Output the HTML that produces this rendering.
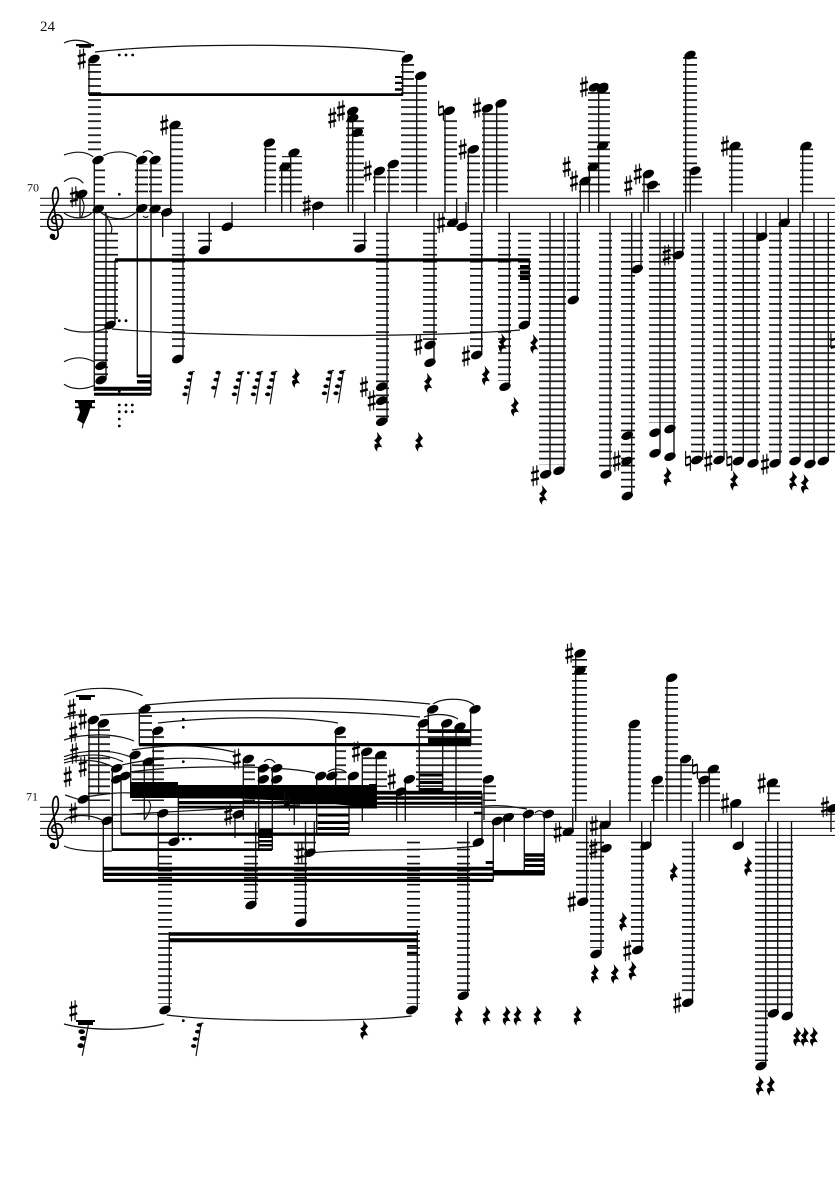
<!DOCTYPE html>
<html><head><meta charset="utf-8"><style>
html,body{margin:0;padding:0;background:#fff}
svg{display:block}
.st{stroke:#111;stroke-width:1.35;fill:none}
.sf{stroke:#222;stroke-width:1.1;fill:none}
.sl{stroke:#111;stroke-width:1.2;fill:none}
text{font-family:"Liberation Serif",serif;fill:#111}
</style></head><body>
<svg xmlns="http://www.w3.org/2000/svg" width="835" height="1181" viewBox="0 0 835 1181">
<defs>
<pattern id="A" width="20" height="7.03" patternUnits="userSpaceOnUse" patternTransform="translate(0 190.6)"><rect width="20" height="1.7" fill="#111"/></pattern>
<pattern id="B" width="20" height="7.03" patternUnits="userSpaceOnUse" patternTransform="translate(0 799.5)"><rect width="20" height="1.7" fill="#111"/></pattern>
<ellipse id="n" rx="6" ry="3.9" transform="rotate(-24)" fill="#000"/>
<g id="s"><path d="M-1.8-9.5V10.5M1.8-10.5V9.5" stroke="#111" stroke-width="1.2" fill="none"/><path d="M-3.9-2.6L3.9-4.9M-3.9 4.9L3.9 2.6" stroke="#000" stroke-width="2.5" fill="none"/></g>
<g id="h"><path d="M-2.4-10V4.6M2.4-4.6V10" stroke="#111" stroke-width="1.2" fill="none"/><path d="M-2.4-3L2.4-4.6M-2.4 4.6L2.4 3" stroke="#000" stroke-width="2.2" fill="none"/></g>
<path id="r" d="M-1.4-10L3.8-3.4C1.6-1.4.8 0 1 1L4 5.8C.8 4.2-1.8 5.4-1 10C-5 6-5 1.2-.8 2L-4.2-1.4C-1.6-3-.6-4.6-.8-6.4Z" fill="#000"/>
<g id="c"><path d="M0 0L5.2-33M5.2-33l2.2 .4" stroke="#111" stroke-width="1.2" fill="none"/><ellipse cx="3.3" cy="-31" rx="2.7" ry="1.9" fill="#000"/><ellipse cx="1.7" cy="-24.3" rx="2.7" ry="1.9" fill="#000"/><ellipse cx="-.7" cy="-17" rx="2.7" ry="1.9" fill="#000"/><ellipse cx="-2.3" cy="-10" rx="2.7" ry="1.9" fill="#000"/></g>
<g id="d"><path d="M0 0L5.5-26" stroke="#111" stroke-width="1.2" fill="none"/><ellipse cx="3.8" cy="-25" rx="2.7" ry="1.9" fill="#000"/><ellipse cx="1.8" cy="-18" rx="2.7" ry="1.9" fill="#000"/><ellipse cx="-.5" cy="-10" rx="2.7" ry="1.9" fill="#000"/></g>
<g id="k"><path d="M1 4C-4 5-5-2 0-4C6-7 9 1 7 6C5 12-5 13-7 6C-9-3 1-12 3-20C4-26 3-32 1-32C-2-31-3-24-2-18L3 13C4 19 0 21-3 19" stroke="#000" stroke-width="1.7" fill="none"/><circle cx="-2.5" cy="17" r="2.8" fill="#000"/></g>
</defs>
<rect width="835" height="1181" fill="#fff"/>
<text x="40" y="31" font-size="15">24</text>
<text x="27" y="191.5" font-size="12">70</text>
<text x="26" y="800.5" font-size="12">71</text>
<path class="sf" d="M40 198.3H835M40 205.3H835M40 212.4H835M40 219.4H835M40 226.4H835M40 807.3H835M40 814.3H835M40 821.4H835M40 828.4H835M40 835.4H835"/>
<use href="#k" x="55" y="219.4"/><use href="#k" x="55" y="828.4"/>

<!-- system 1 ledgers -->
<g fill="url(#A)">
<rect x="88" y="63" width="13" height="92"/><rect x="94" y="165" width="11" height="28"/>
<rect x="95" y="232" width="23" height="92"/><rect x="95" y="324" width="13" height="54"/>
<rect x="135" y="164" width="13" height="29"/><rect x="149" y="164" width="13" height="29"/>
<rect x="171" y="128" width="12" height="65"/><rect x="172" y="232" width="13" height="120"/>
<rect x="198" y="232" width="14" height="11"/>
<rect x="264" y="148" width="12" height="45"/><rect x="279" y="170" width="15" height="23"/><rect x="282" y="156" width="20" height="37"/>
<rect x="346" y="120" width="18" height="73"/><rect x="353" y="232" width="14" height="11"/>
<rect x="373" y="176" width="13" height="17"/><rect x="387" y="170" width="12" height="23"/>
<rect x="401" y="63" width="13" height="20"/><rect x="401" y="82" width="26" height="111"/>
<rect x="376" y="232" width="13" height="186"/><rect x="423" y="232" width="14" height="108"/>
<rect x="444" y="116" width="13" height="77"/><rect x="467" y="155" width="13" height="38"/><rect x="482" y="113" width="26" height="80"/>
<rect x="470" y="232" width="13" height="117"/><rect x="498" y="232" width="13" height="149"/><rect x="518" y="232" width="13" height="87"/>
<rect x="539" y="232" width="27" height="233"/><rect x="567" y="232" width="13" height="60"/>
<rect x="588" y="92" width="22" height="101"/><rect x="579" y="184" width="31" height="9"/>
<rect x="599" y="232" width="13" height="235"/><rect x="621" y="232" width="14" height="260"/><rect x="635" y="232" width="8" height="30"/>
<rect x="642" y="183" width="18" height="10"/><rect x="649" y="232" width="27" height="191"/><rect x="673" y="232" width="12" height="17"/>
<rect x="683" y="57" width="14" height="136"/><rect x="683" y="176" width="19" height="17"/>
<rect x="691" y="232" width="14" height="222"/><rect x="713" y="232" width="14" height="222"/><rect x="732" y="232" width="28" height="222"/>
<rect x="729" y="148" width="14" height="45"/><rect x="769" y="232" width="13" height="222"/><rect x="800" y="148" width="13" height="45"/>
<rect x="789" y="232" width="46" height="222"/>
</g>
<!-- system 2 ledgers -->
<g fill="url(#B)">
<rect x="88" y="725" width="22" height="76"/><rect x="139" y="713" width="13" height="28"/><rect x="152" y="736" width="12" height="65"/><rect x="132" y="764" width="23" height="37"/>
<rect x="336" y="736" width="10" height="52"/><rect x="243" y="764" width="12" height="37"/><rect x="363" y="756" width="24" height="31"/>
<rect x="416" y="729" width="66" height="58"/><rect x="483" y="785" width="13" height="16"/>
<rect x="158" y="841" width="14" height="163"/><rect x="244" y="841" width="14" height="58"/><rect x="294" y="841" width="13" height="75"/><rect x="295" y="841" width="21" height="3"/>
<rect x="407" y="841" width="13" height="163"/><rect x="457" y="841" width="13" height="150"/>
<rect x="572" y="659" width="15" height="142"/><rect x="576" y="841" width="13" height="55"/><rect x="590" y="841" width="14" height="107"/>
<rect x="628" y="729" width="13" height="72"/><rect x="631" y="841" width="13" height="103"/><rect x="651" y="785" width="13" height="16"/><rect x="665" y="682" width="13" height="119"/>
<rect x="678" y="764" width="14" height="37"/><rect x="682" y="841" width="13" height="155"/><rect x="698" y="771" width="22" height="30"/><rect x="767" y="785" width="13" height="16"/>
<rect x="755" y="841" width="13" height="220"/><rect x="768" y="841" width="25" height="165"/>
</g>

<!-- stems -->
<path class="st" d="M89 59V95M94.3 160V391M106 213V380M115 260V325M137.3 160V377M151 160V395M80 194V218M162.7 212V237M170.7 125V212M183 213V359M209.3 212V250M232 226V202M265.5 142V212M281.7 166V212M290.7 152V212M313.3 206V230M348.3 111V212M352.7 118V212M364.7 212V248M374.7 171V212M389 164V212M387 212V422M402.7 58V95M416.7 76V212M445 111V212M434 212V363M468.3 149V212M484 108V212M496.7 103V212M456.7 222V198M466 226V202M481.7 212V355M509.3 212V387M529.3 260V325M550 212V474M564 212V470M577.3 212V300M580.3 181V212M589.3 167V212M598.7 88V212M610 212V474M631.7 212V496M641 212V269M644 174V212M648.3 185V212M660 212V453M674 212V457M682.7 212V255M685.7 55V212M690.3 171V212M702.7 212V460M724 212V460M731.7 146V212M743.3 212V461M757 212V463M766 236V212M780 212V463M788.3 222V198M800 212V461M802.7 146V212M814 212V464M828.3 212V461"/>
<path class="st" d="M89 720V820M98.7 723V793M112.3 768V850M121 776V834M130.7 755V785M103.3 820V880M139.3 709V745M144.3 762V820M153.3 731V796M158.3 813V870M178.3 797V841M169.3 932V1010M235 814V838M243.3 759V820M255.7 821V905M258.7 768V850M272.3 768V850M294.3 800V825M305.5 821V920M314.3 821V852M316.7 776V833M335.7 731V786M349 776V833M362.3 752V821M376.3 755V786M396.7 792V821M405.3 779V821M417.3 930V1010M419.3 723V792M428.3 709V733M442.7 723V791M456 727V821M467.7 821V996M470.7 709V745M482 793V842M484 779V820M493.3 821V880M504.3 817V842M524.3 814V873M544.3 814V875M572.7 831V808M575.7 653V821M586.7 821V902M601 821V954M610 825V800M630 724V821M641.7 821V950M650.7 846V821M653.7 780V821M667 678V821M681 759V821M692.5 821V1003M700.3 780V821M709.3 769V821M731.3 803V828M742.7 821V846M765.7 821V1066M768.7 783V821M777.7 821V1013M791.5 821V1016M831 808V832"/>

<!-- beams -->
<path fill="#000" d="M89 93.3H403V96H89ZM115 258.2H530V261.6H115ZM94 386.7H151V390.7H94ZM94 392.7H151V395.8H94ZM137 374.5H151V377.5H137ZM137 380H151V383.5H137ZM395 76H403V78H395ZM395 81.7H403V84H395ZM395 88.3H403V90.7H395ZM520 265H529.5V269H520ZM520 270.5H529.5V274.5H520ZM520 276H529.5V280H520ZM76 44H94V46.3H76ZM79 46.3H91V47.8H79ZM75 400H95V403H75ZM75 406.5H95V408.3H75ZM79 403H92V407H79Z"/>
<path fill="#000" d="M76 695H95V697H76ZM79 697H91V700H79ZM130 782H178V798H130ZM178 785H377V798.5H178ZM178 801H377V804.3H178ZM178 805.7H377V808.5H178ZM240 798.5L377 798L377 808L310 802ZM377 790.7H482V794.6H377ZM377 796.2H482V799.8H377ZM377 801.7H482V804.8H377ZM377 806.3H482V807.4H377ZM121 832.5H349V835.3H121ZM112 848.3H272V851H112ZM103 866.7H493.5V870.5H103ZM103 872.7H493.5V876H103ZM103 878.7H493.5V882H103ZM139 743H471V746.2H139ZM169 932.3H417.5V935.7H169ZM169 938.3H417.5V942.3H169ZM259 829H272.5V834H259ZM259 835.5H272.5V838H259ZM259 840H272.5V842.5H259ZM259 844H272.5V846.5H259ZM317.7 813.5H349V816.5H317.7ZM317.7 821H349V824H317.7ZM317.7 827H349V830H317.7ZM428 730H471V733H428ZM428 738H471V743H428ZM419 773.5H443V776.5H419ZM419 781H443V784H419ZM419 788H443V791H419ZM369 784H377V786.2H369ZM474 811.7H482V814H474ZM485.7 861H493.3V864H485.7ZM493.3 870H544.5V875.5H493.3ZM524.3 853.3H544.5V856.7H524.3ZM524.3 858.3H544.5V861.7H524.3ZM524.3 864H544.5V867H524.3ZM407 945H417.5V946.8H407ZM407 951.7H417.5V954H407ZM76 1020H95V1022H76ZM78 1022H93V1025H78Z"/>

<!-- flags and cluster blobs -->
<path class="sl" d="M81 197C84 203 86 207 81 218M105 213C108 220 114 226 111 233M148 800C151 803 153 808 144.3 820"/>
<path class="sl" d="M82.3 428.3L87 403M82.3 1055.7L88.3 1025"/>
<path fill="#000" d="M78 403H92L88 415L84 424L77 420L80 412Z"/>
<ellipse cx="81.7" cy="1031.7" rx="3.3" ry="2.4" fill="#000"/><ellipse cx="83" cy="1038.3" rx="3.3" ry="2.4" fill="#000"/><ellipse cx="80.7" cy="1045.7" rx="3.3" ry="2.4" fill="#000"/>

<!-- slurs sys1 -->
<path class="sl" d="M64 43C72 39 85 39 93 46M95 52C170 43 330 43 405 52M64 181.7C70 176.5 78 176.5 83.3 183.3M64 213C72 219 84 220 91.7 213M64 155C75 151 85 151 93.3 156.7M103.3 155.7C112 150.5 128 150.5 136.7 156.7M143 153C146 150 150 150 153 154M100 212C112 221 126 221 136.7 211.7M143 216C145 218 147 218 148 216M64 328.3C75 333 95 334 107 327.7M112 329C200 337 430 338 520 330M64 361.7C74 356.5 84 356.5 94 361.7M64 384.3C72 390 85 390 95 385"/>
<!-- slurs sys2 -->
<path class="sl" d="M64 695C85 686 122 686 142.7 695.7M145 705C240 696 350 696 430 704M100 715C200 709 330 709 420 717M158 723C220 716 300 716 338 723M64 718C72 715 80 714 87 715M64 740C85 733 115 733 134 741M64 756.7C85 749 110 749 130 756.7M64 760C85 753 105 753 123 761.7M64 763C80 758 100 760 113 767M132 750C170 744 200 744 234 752M122 765C150 758 200 755 234 763M130 772C180 765 280 765 315 773M65 795C72 797 78 800 83 800M85 797C100 795 115 792 130 793M64 820C72 814 90 814 102 820M64 846C72 850 90 852 112 851M112 815C160 812 240 808 300 805M485 806C500 805 510 806 527 809M535 813C538 810 541 810 544 813M264.3 761.7C267 758.5 272 758.5 275 762.7M328 771.7C333 768 342 768 346.7 772.7M433 704C442 698 465 697 474 705M424 717C435 713 450 714 458 719M166.7 1015C220 1022 360 1022 411.7 1016M64 1024C90 1031 135 1031 164 1024M310 853C360 848 430 852 476 846"/>

<!-- sys1 notes -->
<g>
<use href="#n" x="94" y="59"/><use href="#n" x="98" y="160"/><use href="#n" x="98.3" y="209"/><use href="#n" x="81.7" y="194"/><use href="#n" x="110" y="325"/><use href="#n" x="101" y="365.7"/><use href="#n" x="101" y="380"/>
<use href="#n" x="141.7" y="160"/><use href="#n" x="141.7" y="208.3"/><use href="#n" x="155" y="160"/><use href="#n" x="155" y="209"/><use href="#n" x="166.7" y="212.3"/><use href="#n" x="175" y="125"/><use href="#n" x="177.7" y="359"/><use href="#n" x="204.3" y="250"/><use href="#n" x="227.3" y="226.7"/>
<use href="#n" x="269.3" y="142.7"/><use href="#n" x="285" y="166.7"/><use href="#n" x="294" y="152.7"/><use href="#n" x="317.7" y="205.7"/><use href="#n" x="352.7" y="111"/><use href="#n" x="352.7" y="118.3"/><use href="#n" x="357.3" y="132.7"/><use href="#n" x="360" y="248.3"/><use href="#n" x="379.3" y="171"/><use href="#n" x="393.3" y="164"/>
<use href="#n" x="381.7" y="386.7"/><use href="#n" x="381.7" y="400.7"/><use href="#n" x="381.7" y="421.7"/><use href="#n" x="407.3" y="58.3"/><use href="#n" x="420.7" y="75.7"/><use href="#n" x="449.3" y="110.7"/><use href="#n" x="473.3" y="149.3"/><use href="#n" x="487.3" y="108.3"/><use href="#n" x="501" y="103.3"/>
<use href="#n" x="452.7" y="222.7"/><use href="#n" x="462.3" y="226.7"/><use href="#n" x="430" y="345"/><use href="#n" x="430" y="362.7"/><use href="#n" x="476.7" y="355"/><use href="#n" x="505" y="386.7"/><use href="#n" x="524.3" y="325"/>
<use href="#n" x="545.7" y="474.3"/><use href="#n" x="559" y="470.7"/><use href="#n" x="573.3" y="300"/><use href="#n" x="606" y="474.3"/><use href="#n" x="627.3" y="496"/><use href="#n" x="627.3" y="435.7"/><use href="#n" x="627" y="461"/><use href="#n" x="637.3" y="269"/>
<use href="#n" x="678.3" y="255"/><use href="#n" x="655" y="432.7"/><use href="#n" x="655" y="453.3"/><use href="#n" x="670" y="429"/><use href="#n" x="670" y="456.7"/>
<use href="#n" x="696.7" y="460"/><use href="#n" x="719" y="460"/><use href="#n" x="738.3" y="461"/><use href="#n" x="753" y="463.3"/><use href="#n" x="775" y="463.3"/><use href="#n" x="761.7" y="236.7"/><use href="#n" x="784.3" y="222.7"/><use href="#n" x="795" y="461"/><use href="#n" x="810" y="464"/><use href="#n" x="823.3" y="461"/>
<use href="#n" x="735" y="146"/><use href="#n" x="806" y="146"/><use href="#n" x="690" y="55"/><use href="#n" x="695" y="170.7"/><use href="#n" x="648.3" y="174"/><use href="#n" x="652.3" y="185"/>
<use href="#n" x="594.3" y="87.3"/><use href="#n" x="602.7" y="87"/><use href="#n" x="602.7" y="89"/><use href="#n" x="602.7" y="145.7"/><use href="#n" x="593.3" y="166.7"/><use href="#n" x="585" y="181"/>
</g>
<!-- sys2 notes -->
<g>
<use href="#n" x="93.3" y="720"/><use href="#n" x="103.3" y="723.3"/><use href="#n" x="116.7" y="768.3"/><use href="#n" x="116.7" y="779.3"/><use href="#n" x="125" y="776"/><use href="#n" x="83.3" y="799.3"/><use href="#n" x="107.3" y="820.7"/>
<use href="#n" x="145" y="709.3"/><use href="#n" x="157.7" y="730.7"/><use href="#n" x="135" y="755"/><use href="#n" x="148.3" y="761.7"/><use href="#n" x="162.7" y="813.3"/><use href="#n" x="174" y="841.7"/>
<use href="#n" x="238.3" y="814.3"/><use href="#n" x="248.3" y="759"/><use href="#n" x="263.3" y="768.3"/><use href="#n" x="263.3" y="779.3"/><use href="#n" x="276.7" y="768.3"/><use href="#n" x="276.7" y="779.3"/>
<use href="#n" x="320.7" y="776"/><use href="#n" x="331.7" y="776"/><use href="#n" x="353.3" y="776"/><use href="#n" x="340" y="730.7"/><use href="#n" x="366.7" y="751.7"/><use href="#n" x="380.7" y="755"/><use href="#n" x="409.3" y="779.3"/><use href="#n" x="400.7" y="791.7"/><use href="#n" x="310" y="852.7"/>
<use href="#n" x="423.3" y="723.3"/><use href="#n" x="432.7" y="709.3"/><use href="#n" x="446.7" y="723.3"/><use href="#n" x="460" y="726.7"/><use href="#n" x="475" y="709.3"/><use href="#n" x="488.3" y="779.3"/><use href="#n" x="478.3" y="842.3"/>
<use href="#n" x="463.3" y="995.7"/><use href="#n" x="411.7" y="1010"/><use href="#n" x="165" y="1010"/><use href="#n" x="251" y="905"/><use href="#n" x="301" y="922.7"/>
<use href="#n" x="497.3" y="821"/><use href="#n" x="508.3" y="817.3"/><use href="#n" x="528.3" y="814"/><use href="#n" x="548.3" y="814"/><use href="#n" x="568.3" y="831.7"/>
<use href="#n" x="580" y="653.3"/><use href="#n" x="580" y="670.7"/><use href="#n" x="605" y="825"/><use href="#n" x="606" y="848.3"/><use href="#n" x="582.7" y="901.7"/><use href="#n" x="596" y="954"/><use href="#n" x="637.7" y="950"/><use href="#n" x="646" y="845.7"/>
<use href="#n" x="634.3" y="724"/><use href="#n" x="657.3" y="780"/><use href="#n" x="671.7" y="677.7"/><use href="#n" x="685.7" y="759"/><use href="#n" x="704" y="780"/><use href="#n" x="713.3" y="769"/><use href="#n" x="735.7" y="803.3"/><use href="#n" x="738.3" y="845.7"/><use href="#n" x="772.3" y="782.7"/><use href="#n" x="832.7" y="808.3"/>
<use href="#n" x="761" y="1066"/><use href="#n" x="773.3" y="1013.3"/><use href="#n" x="787.3" y="1016"/><use href="#n" x="687.7" y="1002.7"/>
</g>
<!-- sharps -->
<g>
<use href="#s" x="81.7" y="59"/><use href="#s" x="74" y="196.7"/><use href="#s" x="164.3" y="125"/><use href="#s" x="306.7" y="205.7"/><use href="#s" x="341" y="110.7"/><use href="#s" x="332.3" y="117.7"/><use href="#s" x="367.7" y="171"/><use href="#s" x="364" y="386.7"/><use href="#s" x="371.7" y="400.7"/><use href="#s" x="462.7" y="149.3"/><use href="#s" x="477" y="107.7"/><use href="#s" x="441" y="222.7"/><use href="#s" x="418.3" y="345"/><use href="#s" x="466" y="356"/><use href="#s" x="535" y="475.7"/><use href="#s" x="616.7" y="461"/><use href="#s" x="666.7" y="255"/><use href="#s" x="708.3" y="461"/><use href="#s" x="765" y="464.3"/><use href="#s" x="725" y="146"/><use href="#s" x="637.7" y="174"/><use href="#s" x="628.3" y="185.7"/><use href="#s" x="584" y="86.7"/><use href="#s" x="566.7" y="166.7"/><use href="#s" x="574" y="181"/>
<use href="#s" x="71.7" y="709.3"/><use href="#s" x="82.7" y="719.3"/><use href="#s" x="73.3" y="731.7"/><use href="#s" x="74.3" y="753.3"/><use href="#s" x="82.7" y="766.7"/><use href="#s" x="67.7" y="776.7"/><use href="#s" x="73.3" y="813"/><use href="#s" x="228.3" y="815"/><use href="#s" x="236.7" y="759"/><use href="#s" x="300" y="853.3"/><use href="#s" x="356" y="751.7"/><use href="#s" x="391.7" y="779.3"/><use href="#s" x="73.3" y="1010.7"/><use href="#s" x="557.7" y="832.3"/><use href="#s" x="569.3" y="653.3"/><use href="#s" x="594" y="825.7"/><use href="#s" x="593.3" y="849"/><use href="#s" x="571.7" y="901.7"/><use href="#s" x="627.3" y="950.7"/><use href="#s" x="725" y="803.3"/><use href="#s" x="761.7" y="783.3"/><use href="#s" x="825" y="806.7"/><use href="#s" x="677.3" y="1002.7"/>
</g>
<!-- naturals -->
<g>
<use href="#h" x="441" y="110.7"/><use href="#h" x="688" y="461"/><use href="#h" x="729.3" y="461"/><use href="#h" x="833.3" y="343.3"/><use href="#h" x="287" y="801"/><use href="#h" x="695" y="769"/>
</g>
<!-- rests -->
<g>
<use href="#r" x="296" y="378"/><use href="#r" x="378.3" y="441.7"/><use href="#r" x="419.3" y="441.7"/><use href="#r" x="428.3" y="382.7"/><use href="#r" x="486" y="375.7"/><use href="#r" x="502.7" y="343.3"/><use href="#r" x="515" y="406.7"/><use href="#r" x="534.3" y="344"/><use href="#r" x="543.3" y="495"/><use href="#r" x="667.7" y="476.7"/><use href="#r" x="734.3" y="480.7"/><use href="#r" x="793.3" y="480.7"/><use href="#r" x="805" y="484"/>
<use href="#r" x="364.3" y="1030"/><use href="#r" x="459" y="1015.7"/><use href="#r" x="486.7" y="1015.7"/><use href="#r" x="506.7" y="1015.7"/><use href="#r" x="517.7" y="1015.7"/><use href="#r" x="537.7" y="1015.7"/><use href="#r" x="577.7" y="1015.7"/><use href="#r" x="595" y="974"/><use href="#r" x="615" y="974"/><use href="#r" x="632.7" y="970.7"/><use href="#r" x="623.3" y="921.7"/><use href="#r" x="674" y="872"/><use href="#r" x="748.3" y="866.5"/><use href="#r" x="797.3" y="1036.7"/><use href="#r" x="805" y="1036.7"/><use href="#r" x="814" y="1036.7"/><use href="#r" x="760" y="1085.7"/><use href="#r" x="771" y="1085.7"/>
</g>
<!-- clusters -->
<g>
<use href="#c" x="187.3" y="404.3"/><use href="#d" x="214.3" y="397.7"/><use href="#c" x="236.7" y="404.3"/><use href="#c" x="255.7" y="404.3"/><use href="#c" x="270" y="404.3"/><use href="#c" x="326.7" y="403.3"/><use href="#c" x="338.3" y="403.3"/><use href="#c" x="196" y="1056"/>
</g>
<!-- dots -->
<g fill="#000">
<circle cx="119.3" cy="55" r="1.4"/><circle cx="126" cy="55" r="1.4"/><circle cx="132.7" cy="55" r="1.4"/><circle cx="119.3" cy="194.3" r="1.4"/><circle cx="119.3" cy="320.7" r="1.4"/><circle cx="126" cy="320.7" r="1.4"/><circle cx="119.3" cy="405" r="1.4"/><circle cx="126" cy="405" r="1.4"/><circle cx="132.3" cy="405" r="1.4"/><circle cx="119.3" cy="411.7" r="1.4"/><circle cx="126" cy="411.7" r="1.4"/><circle cx="132.3" cy="411.7" r="1.4"/><circle cx="119.3" cy="419" r="1.4"/><circle cx="119.3" cy="426" r="1.4"/><circle cx="119.3" cy="391.5" r="1.4"/><circle cx="248.3" cy="372.7" r="1.4"/>
<circle cx="183.3" cy="719.3" r="1.4"/><circle cx="183.3" cy="727.3" r="1.4"/><circle cx="183.3" cy="761.7" r="1.4"/><circle cx="183.3" cy="839" r="1.4"/><circle cx="190.3" cy="839" r="1.4"/><circle cx="183.3" cy="1020.7" r="1.4"/>
</g>
</svg>
</body></html>
